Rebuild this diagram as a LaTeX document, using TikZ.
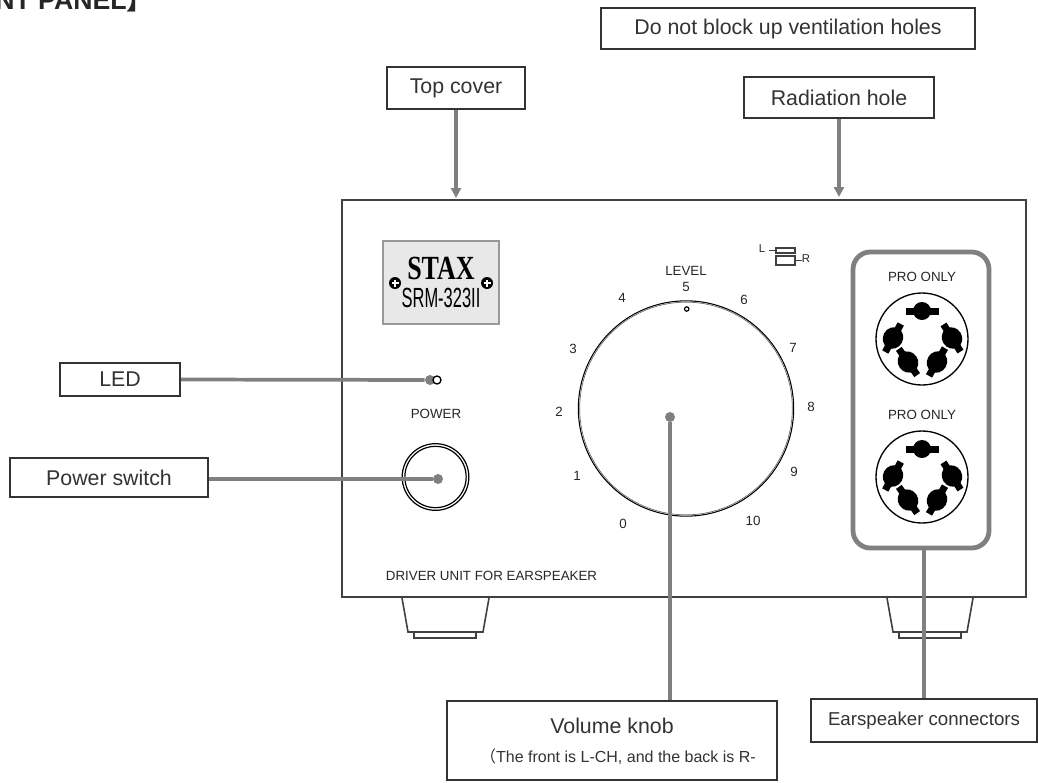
\documentclass[tikz,border=0pt]{standalone}
\usepackage{fontspec}
\setmainfont{Liberation Sans}
\newfontfamily\cjkfont{Noto Sans CJK SC}
\newfontfamily\platefont{Liberation Serif}
\usepackage{tikz}
\usetikzlibrary{arrows.meta}

\newcommand{\sizefont}[1]{\fontsize{#1}{#1}\selectfont}
\newcommand{\pinshape}[3]{%
    \fill [shift={(#1,#2)}, rotate=#3] (-16,-3.5) rectangle (16,3.5);
    \fill [shift={(#1,#2)}, rotate=#3] (0,0) ellipse (11 and 10);
}

\begin{document}
\begin{tikzpicture}[x=0.75pt, y=-0.75pt]
        \tikzset{
            labelbox/.style={draw=black!80, line width=1.6pt, fill=white, inner sep=0pt, font=\sizefont{16}, text=black!80, align=center},
            tag/.style={font=\sizefont{10}, text=black!85, inner sep=0pt},
            leader/.style={draw=black!50, line width=2.8pt},
            outline/.style={draw=black!75, line width=1.2pt},
            arrowline/.style={leader, -{Triangle[length=7.5pt, width=7.5pt]}},
            tipdot/.style={circle, fill=black!50, inner sep=0pt, minimum size=7.5pt}
        }
        \useasboundingbox (0,0) rectangle (1038,782);

        % title, cut by the page
        \node [anchor=base west, inner sep=0pt, font=\sizefont{20}\bfseries, text=black!85] (title) at (-5,9.5) {NT PANEL\cjkfont 】};

        % cabinet and feet
        \draw [outline] (342,200) rectangle (1026,597);
        \draw [outline] (402,598) -- (408,632) -- (483,632) -- (489,598);
        \draw [outline] (414,632) -- (414,638) -- (476,638) -- (476,632);
        \draw [outline] (887,598) -- (893,632) -- (967,632) -- (973,598);
        \draw [outline] (899,632) -- (899,638) -- (961,638) -- (961,632);

        % name plate
        \draw [draw=black!40, fill=black!9, line width=0.8pt] (383,241) rectangle (499,324);
        \node [inner sep=0pt, font=\sizefont{19.5}\bfseries\platefont] (stax) at (441,268) {\scalebox{1}[1.3]{STAX}};
        \node [inner sep=0pt, font=\sizefont{13}] (model) at (441,298) {\scalebox{0.95}[1.6]{SRM-323II}};
        \foreach \sx in {395,487} {
            \fill (\sx,283) circle (6);
            \draw [white, line width=1pt] (\sx-3.5,283) -- (\sx+3.5,283) (\sx,279.5) -- (\sx,286.5);
        }

        % LED and power switch
        \node [tag] (powertext) at (436,414) {POWER};
        \node [circle, draw, inner sep=0pt, minimum size=50pt, line width=0.9pt] (switchouter) at (435.5,477) {};
        \node [circle, draw, inner sep=0pt, minimum size=46pt, line width=0.9pt] (switchinner) at (435.5,477) {};
        \node [tag] (drivertext) at (491.5,576) {DRIVER UNIT FOR EARSPEAKER};

        % level knob
        \node [circle, draw, inner sep=0pt, minimum size=161.5pt, line width=0.8pt] (knobouter) at (686,408.5) {};
        \node [circle, draw=black!60, inner sep=0pt, minimum size=159.5pt, line width=0.5pt] (knobinner) at (686,408.5) {};
        \draw [line width=0.9pt, fill=white] (686.7,309) circle (2.2);
        \node [tag] (leveltext) at (686,271) {LEVEL};
        \foreach \num/\nx/\ny in {0/623/524, 1/577/476, 2/559/412, 3/573/349, 4/622/298, 5/686/287, 6/744/300, 7/793/348, 8/811/407, 9/794/472, 10/753/521}
            \node [tag] (n\num) at (\nx,\ny) {\num};

        % L R switch mark
        \node [tag, font=\sizefont{8.5}] (ltext) at (762,249) {L};
        \node [tag, font=\sizefont{8.5}] (rtext) at (806,259) {R};
        \draw [outline] (776,248) rectangle (795,253);
        \draw [outline] (776,256) rectangle (795,265);
        \draw [outline] (769,250.5) -- (776,250.5);
        \draw [outline] (795,260.5) -- (802,260.5);

        % connector panel
        \node [draw=black!50, line width=3.6pt, rounded corners=13pt, inner sep=0pt, minimum width=102pt, minimum height=222pt] (conpanel) at (921,400) {};
        \node [tag] (protext1) at (922,277) {PRO ONLY};
        \node [tag] (protext2) at (922,415) {PRO ONLY};
        \foreach \cy in {339,477} {
            \draw [line width=1pt] (922,\cy) circle (46);
            \fill (905.5,\cy-31.5) rectangle (938.5,\cy-24.5);
            \fill (922,\cy-28) circle (9);
            \pinshape{893}{\cy-1}{61}
            \pinshape{952}{\cy-1}{-58}
            \pinshape{908}{\cy+23}{-55}
            \pinshape{937}{\cy+23}{60}
        }

        % labels
        \node [labelbox, minimum width=280.5pt, minimum height=31pt] (ventbox) at (788,28.5) {Do not block up ventilation holes};
        \node [labelbox, minimum width=103pt, minimum height=31pt] (topbox) at (456,88) {Top cover};
        \node [labelbox, minimum width=142pt, minimum height=31pt] (radbox) at (839,97.5) {Radiation hole};
        \node [labelbox, minimum width=90pt, minimum height=24.5pt] (ledbox) at (120,379.5) {LED};
        \node [labelbox, minimum width=148.5pt, minimum height=29pt] (switchbox) at (109,477.5) {Power switch};
        \node [labelbox, minimum width=247.5pt, minimum height=59pt] (knobbox) at (612,740.5) {};
        \node [font=\sizefont{16}, text=black!80, inner sep=0pt] (knobtext) at (612,726) {Volume knob};
        \node [font=\sizefont{12}, text=black!80, inner sep=0pt] (knobnote) at (618,757) {{\cjkfont （}The front is L-CH, and the back is R-};
        \node [labelbox, font=\sizefont{14}, minimum width=169.5pt, minimum height=32pt] (earbox) at (924,720.5) {Earspeaker connectors};

        % leaders
        \coordinate (toptip) at (456,198);
        \coordinate (radtip) at (838,197);
        \node [tipdot] (leddot) at (430,380) {};
        \node [tipdot] (switchdot) at (438,479) {};
        \node [tipdot] (knobdot) at (670,417) {};
        \draw [line width=1pt, fill=white] (437,380) circle (4);
        \draw [arrowline] (topbox) -- (topbox |- toptip);
        \draw [arrowline] (radbox) -- (radbox |- radtip);
        \draw [leader] (ledbox.east) -- (leddot);
        \draw [leader] (switchbox.east |- switchdot) -- (switchdot);
        \draw [leader] (knobdot) -- (knobdot |- knobbox.north);
        \draw [leader] (earbox.north) -- (earbox |- conpanel.south);
    \end{tikzpicture}
\end{document}
